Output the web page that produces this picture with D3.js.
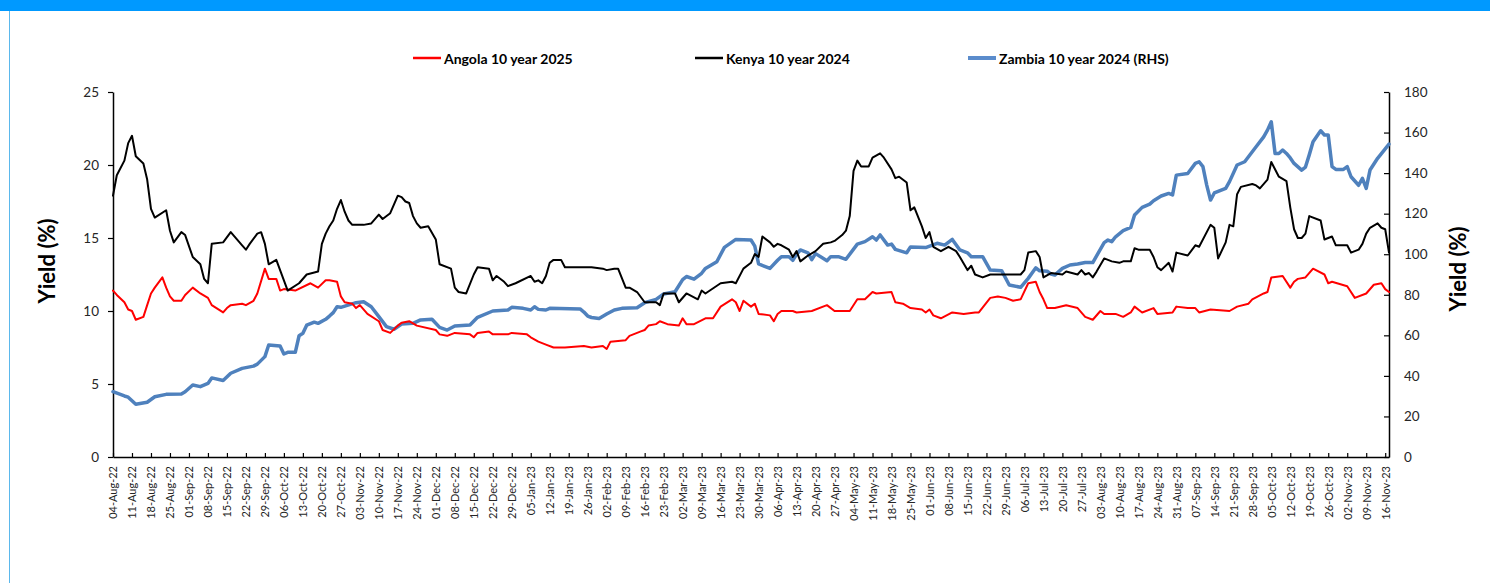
<!DOCTYPE html>
<html>
<head>
<meta charset="utf-8">
<script src="https://cdn.jsdelivr.net/npm/d3@7"></script>
<style>
  body { margin: 0; background: #fff; }
  svg { display: block; font-family: Lato, "Open Sans", sans-serif; }
</style>
</head>
<body>
<div id="chart"></div>
<script>
// weekly labels on the trading-day axis (one every 5 trading days)
const tickLabels = [
  "04-Aug-22", "11-Aug-22", "18-Aug-22", "25-Aug-22", "01-Sep-22", "08-Sep-22", "15-Sep-22", "22-Sep-22",
  "29-Sep-22", "06-Oct-22", "13-Oct-22", "20-Oct-22", "27-Oct-22", "03-Nov-22", "10-Nov-22", "17-Nov-22",
  "24-Nov-22", "01-Dec-22", "08-Dec-22", "15-Dec-22", "22-Dec-22", "29-Dec-22", "05-Jan-23", "12-Jan-23",
  "19-Jan-23", "26-Jan-23", "02-Feb-23", "09-Feb-23", "16-Feb-23", "23-Feb-23", "02-Mar-23", "09-Mar-23",
  "16-Mar-23", "23-Mar-23", "30-Mar-23", "06-Apr-23", "13-Apr-23", "20-Apr-23", "27-Apr-23", "04-May-23",
  "11-May-23", "18-May-23", "25-May-23", "01-Jun-23", "08-Jun-23", "15-Jun-23", "22-Jun-23", "29-Jun-23",
  "06-Jul-23", "13-Jul-23", "20-Jul-23", "27-Jul-23", "03-Aug-23", "10-Aug-23", "17-Aug-23", "24-Aug-23",
  "31-Aug-23", "07-Sep-23", "14-Sep-23", "21-Sep-23", "28-Sep-23", "05-Oct-23", "12-Oct-23", "19-Oct-23",
  "26-Oct-23", "02-Nov-23", "09-Nov-23", "16-Nov-23"
];

// [trading day since 04-Aug-22, yield %]
const angola = [
  [0,11.4],[1,11.1],[3,10.6],[4,10.1],[5,10.0],[6,9.4],[8,9.6],[9,10.4],[10,11.2],[11,11.6],[13,12.3],[14,11.6],
  [15,11.0],[16,10.7],[18,10.7],[19,11.1],[21,11.6],[23,11.2],[25,10.9],[26,10.4],[29,9.9],[30,10.2],[31,10.4],
  [34,10.5],[35,10.4],[37,10.7],[38,11.2],[40,12.9],[41,12.2],[43,12.2],[44,11.4],[45,11.5],[48,11.4],[52,11.9],
  [54,11.6],[56,12.1],[57,12.1],[59,12.0],[60,11.0],[61,10.6],[63,10.5],[64,10.2],[65,10.4],[67,9.8],[70,9.3],
  [71,8.7],[73,8.5],[75,9.0],[76,9.2],[78,9.3],[80,9.0],[85,8.7],[86,8.4],[88,8.3],[90,8.5],[94,8.4],[95,8.2],
  [96,8.5],[99,8.6],[100,8.4],[104,8.4],[105,8.5],[109,8.4],[110,8.2],[112,7.9],[114,7.7],[116,7.5],[119,7.5],
  [124,7.6],[126,7.5],[129,7.6],[130,7.4],[131,7.9],[135,8.0],[136,8.3],[139,8.6],[140,8.7],[141,9.0],[143,9.1],
  [144,9.3],[146,9.1],[149,9.0],[150,9.5],[151,9.1],[153,9.1],[156,9.5],[158,9.5],[160,10.3],[163,10.8],[164,10.6],
  [165,10.0],[166,10.7],[168,10.3],[169,10.5],[170,9.8],[173,9.7],[174,9.3],[175,9.8],[176,10.0],[179,10.0],
  [180,9.9],[184,10.0],[188,10.4],[190,10.0],[194,10.0],[196,10.8],[198,10.8],[200,11.3],[201,11.2],[205,11.3],
  [206,10.6],[208,10.5],[210,10.2],[213,10.1],[214,9.9],[215,10.1],[216,9.7],[218,9.5],[221,9.9],[224,9.8],
  [227,9.9],[228,9.9],[231,10.9],[233,11.0],[235,10.9],[237,10.7],[239,10.8],[241,11.9],[243,12.0],[244,11.3],
  [245,10.8],[246,10.2],[248,10.2],[251,10.4],[254,10.2],[256,9.6],[258,9.4],[260,10.0],[261,9.8],[264,9.8],
  [266,9.6],[268,9.9],[269,10.3],[271,9.9],[274,10.2],[275,9.8],[279,9.9],[280,10.3],[283,10.2],[285,10.2],
  [286,9.9],[289,10.1],[294,10.0],[296,10.3],[299,10.5],[300,10.8],[303,11.2],[304,11.3],[305,12.3],[308,12.4],
  [310,11.6],[311,12.0],[312,12.2],[314,12.3],[316,12.9],[319,12.5],[320,11.9],[321,12.0],[325,11.7],[327,10.9],
  [330,11.2],[332,11.8],[334,11.9],[335,11.5],[336,11.3]
];

const kenya = [
  [0,17.9],[1,19.3],[3,20.3],[4,21.5],[5,22.0],[6,20.6],[8,20.1],[9,19.0],[10,17.0],[11,16.4],[14,16.9],[15,15.5],
  [16,14.7],[18,15.4],[19,15.2],[21,13.7],[23,13.2],[24,12.2],[25,11.9],[26,14.6],[29,14.7],[31,15.4],[34,14.5],
  [35,14.2],[36,14.6],[38,15.3],[39,15.4],[40,14.6],[41,13.2],[43,13.5],[44,12.8],[46,11.4],[49,11.9],[51,12.5],
  [54,12.7],[55,14.6],[56,15.3],[57,15.8],[58,16.2],[59,17.0],[60,17.6],[61,16.8],[62,16.2],[63,15.9],[66,15.9],
  [68,16.0],[70,16.6],[71,16.3],[73,16.7],[75,17.9],[76,17.8],[77,17.5],[78,17.4],[79,16.5],[80,16.0],[81,15.7],
  [83,15.8],[85,14.9],[86,13.2],[89,12.9],[90,11.6],[91,11.3],[93,11.2],[95,12.5],[96,13.0],[99,12.9],[100,12.1],
  [101,12.4],[103,12.0],[104,11.7],[106,11.9],[110,12.4],[111,12.0],[112,12.1],[113,11.9],[114,12.4],[115,13.3],
  [116,13.5],[118,13.5],[119,13.0],[124,13.0],[126,13.0],[129,12.9],[130,12.8],[132,12.9],[133,12.9],[135,11.6],
  [136,11.6],[138,11.3],[140,10.6],[143,10.6],[144,10.4],[145,11.2],[148,11.2],[149,10.6],[151,11.2],[154,10.8],
  [155,11.4],[156,11.2],[160,11.9],[163,12.0],[164,11.9],[166,12.9],[168,13.3],[169,13.9],[170,13.7],[171,15.1],
  [173,14.7],[174,14.4],[175,14.6],[176,14.5],[178,14.2],[179,13.7],[180,14.1],[181,13.4],[183,13.8],[185,14.1],
  [187,14.6],[189,14.7],[190,14.8],[192,15.2],[193,15.5],[194,16.5],[195,19.6],[196,20.3],[197,19.9],[199,19.9],
  [200,20.5],[202,20.8],[203,20.5],[205,19.7],[206,19.1],[207,19.2],[209,18.8],[210,16.9],[211,17.1],[213,15.8],
  [214,15.0],[215,15.4],[216,14.4],[218,14.1],[220,14.4],[222,14.1],[223,13.7],[225,12.8],[226,13.1],[227,12.5],
  [229,12.3],[231,12.5],[234,12.5],[239,12.5],[240,12.8],[241,14.0],[243,14.1],[244,13.7],[245,12.3],[247,12.6],
  [250,12.5],[251,12.7],[254,12.5],[255,12.8],[256,12.5],[257,12.6],[258,12.3],[259,12.7],[261,13.6],[263,13.4],
  [265,13.3],[266,13.4],[268,13.4],[269,14.3],[270,14.2],[273,14.2],[274,13.7],[275,13.0],[276,12.8],[278,13.3],
  [279,12.7],[280,14.0],[283,13.8],[285,14.5],[286,14.4],[289,15.9],[290,15.7],[291,13.6],[293,14.7],[294,15.9],
  [295,15.8],[296,18.0],[297,18.5],[300,18.7],[301,18.6],[302,18.4],[304,19.0],[305,20.2],[307,19.2],[309,18.9],
  [310,17.1],[311,15.6],[312,15.0],[313,15.0],[314,15.3],[315,16.5],[318,16.2],[319,14.9],[321,15.1],[322,14.5],
  [325,14.5],[326,14.0],[328,14.2],[329,14.6],[330,15.3],[331,15.7],[333,16.0],[334,15.7],[335,15.6],[336,14.0]
];

const zambia = [
  [0,32.2],[3,30.1],[4,29.5],[6,26.0],[9,27.0],[11,29.7],[14,30.9],[18,31.1],[19,32.2],[21,35.5],[23,34.7],
  [25,36.3],[26,39.0],[29,37.7],[31,41.3],[34,43.7],[37,44.8],[38,45.8],[40,49.5],[41,55.2],[44,54.7],[45,50.8],
  [46,51.6],[48,51.6],[49,59.8],[50,61.0],[51,65.0],[53,66.5],[54,65.9],[56,67.9],[57,69.5],[58,71.2],[59,74.1],
  [60,73.8],[64,76.1],[66,76.6],[68,74.1],[70,69.2],[72,64.3],[74,63.0],[76,65.6],[79,65.9],[81,67.6],[84,67.9],
  [86,63.9],[88,62.6],[90,64.6],[94,65.1],[96,68.9],[100,72.0],[104,72.5],[105,73.8],[108,73.3],[110,72.5],
  [111,74.1],[112,72.8],[114,72.5],[115,73.3],[123,73.0],[124,71.5],[125,69.5],[126,68.8],[128,68.3],[130,70.5],
  [132,72.5],[134,73.3],[138,73.6],[140,76.1],[143,77.7],[145,80.4],[148,81.5],[150,87.5],[151,89.0],[153,87.7],
  [155,90.6],[156,93.0],[159,96.3],[161,103.4],[164,107.3],[168,107.0],[169,104.0],[170,95.2],[173,93.0],
  [175,97.0],[176,98.8],[178,98.8],[179,97.0],[180,100.0],[181,102.1],[183,100.7],[184,97.3],[185,100.3],
  [188,96.8],[189,98.8],[191,98.8],[193,97.5],[196,105.0],[198,106.2],[200,108.6],[201,107.0],[202,109.5],
  [204,104.5],[205,105.0],[206,102.4],[209,100.7],[210,103.6],[214,103.3],[217,105.4],[219,104.5],[221,107.3],
  [223,102.1],[225,100.7],[226,98.8],[229,98.8],[231,92.2],[234,91.9],[236,84.8],[239,83.7],[241,88.1],[243,93.3],
  [244,91.8],[246,91.6],[247,90.2],[248,89.7],[250,93.0],[252,94.7],[254,95.2],[256,95.9],[258,95.9],[261,105.7],
  [262,107.0],[263,106.2],[264,108.6],[266,111.6],[268,113.2],[269,119.3],[271,123.1],[273,124.7],[274,126.4],
  [276,128.7],[278,130.0],[279,129.2],[280,139.0],[283,139.8],[285,144.8],[286,145.6],[287,143.2],[288,134.1],
  [289,126.7],[290,130.2],[293,132.5],[294,135.8],[296,144.0],[298,145.6],[299,148.1],[301,153.0],[303,157.9],
  [304,161.2],[305,165.3],[306,149.7],[307,149.7],[308,151.4],[309,149.7],[310,147.5],[311,144.8],[313,141.5],
  [314,143.0],[315,149.0],[316,155.5],[318,160.9],[319,158.8],[320,158.8],[321,143.2],[322,141.8],[324,141.8],
  [325,143.2],[326,138.2],[328,134.0],[329,137.4],[330,132.5],[331,141.5],[333,147.3],[336,154.3]
];

const leftTicks = [0, 5, 10, 15, 20, 25];
const rightTicks = [0, 20, 40, 60, 80, 100, 120, 140, 160, 180];

const W = 1490, H = 583;
const margin = { top: 92, right: 101, bottom: 126, left: 113 };

const svg = d3.select("#chart").append("svg")
  .attr("width", W)
  .attr("height", H);

// frame: blue strip on top, thin border on the left
svg.append("rect")
  .attr("x", 0).attr("y", 0)
  .attr("width", W).attr("height", 11)
  .attr("fill", "#0099ff");
svg.append("line")
  .attr("x1", 9.5).attr("x2", 9.5)
  .attr("y1", 11).attr("y2", H)
  .attr("stroke", "#5bb8ec")
  .attr("stroke-width", 1);

const x = d3.scaleLinear()
  .domain([0, 336])
  .range([margin.left, W - margin.right]);

const yL = d3.scaleLinear()
  .domain([0, 25])
  .range([H - margin.bottom, margin.top]);

const yR = d3.scaleLinear()
  .domain([0, 180])
  .range([H - margin.bottom, margin.top]);

// axes
const axisColor = "#000";
const labelColor = "#262626";

const gx = svg.append("g")
  .attr("transform", `translate(0,${H - margin.bottom})`)
  .call(d3.axisBottom(x)
    .tickValues(tickLabels.map((d, i) => i * 5))
    .tickFormat(d => tickLabels[d / 5])
    .tickSize(-4)
    .tickSizeOuter(0));

gx.selectAll("text")
  .attr("transform", "rotate(-90)")
  .attr("x", -9)
  .attr("y", 0)
  .attr("dy", "0.35em")
  .attr("text-anchor", "end")
  .style("font-size", "11px")
  .style("fill", labelColor);

const gl = svg.append("g")
  .attr("transform", `translate(${margin.left},0)`)
  .call(d3.axisLeft(yL)
    .tickValues(leftTicks)
    .tickSize(5)
    .tickPadding(9)
    .tickSizeOuter(0));

gl.selectAll("text")
  .style("font-size", "13.5px")
  .style("fill", labelColor);

const gr = svg.append("g")
  .attr("transform", `translate(${W - margin.right},0)`)
  .call(d3.axisRight(yR)
    .tickValues(rightTicks)
    .tickSize(-5)
    .tickPadding(15)
    .tickSizeOuter(0));

gr.selectAll("text")
  .style("font-size", "13.5px")
  .style("fill", labelColor);

[gx, gl, gr].forEach(g => {
  g.select(".domain").attr("stroke", axisColor).attr("stroke-width", 1.5);
  g.selectAll(".tick line").attr("stroke", axisColor).attr("stroke-width", 1.2);
  g.selectAll("text").style("font-family", "Lato, sans-serif");
});

// axis titles
svg.append("text")
  .attr("transform", "translate(46,261) rotate(-90)")
  .attr("text-anchor", "middle")
  .attr("dominant-baseline", "central")
  .style("font-size", "22px")
  .style("font-weight", "700")
  .style("fill", "#000")
  .text("Yield (%)");

svg.append("text")
  .attr("transform", "translate(1457,269) rotate(-90)")
  .attr("text-anchor", "middle")
  .attr("dominant-baseline", "central")
  .style("font-size", "22px")
  .style("font-weight", "700")
  .style("fill", "#000")
  .text("Yield (%)");

// series
const series = [
  { name: "Angola 10 year 2025", data: angola, y: yL, color: "#ff0000", width: 2, legendX: 413 },
  { name: "Kenya 10 year 2024", data: kenya, y: yL, color: "#000000", width: 2, legendX: 695 },
  { name: "Zambia 10 year 2024 (RHS)", data: zambia, y: yR, color: "#4f81bd", width: 3.5, legendX: 968 }
];

// zambia underneath, like the reference
[series[2], series[0], series[1]].forEach(s => {
  const line = d3.line()
    .x(d => x(d[0]))
    .y(d => s.y(d[1]));

  svg.append("path")
    .datum(s.data)
    .attr("fill", "none")
    .attr("stroke", s.color)
    .attr("stroke-width", s.width)
    .attr("stroke-linejoin", "round")
    .attr("stroke-linecap", "round")
    .attr("d", line);
});

// legend
const legendY = 58;
series.forEach(s => {
  svg.append("line")
    .attr("x1", s.legendX)
    .attr("x2", s.legendX + 28)
    .attr("y1", legendY)
    .attr("y2", legendY)
    .attr("stroke", s.color === "#4f81bd" ? "#5b8ccc" : s.color)
    .attr("stroke-width", s.width === 2 ? 2.5 : 4);

  svg.append("text")
    .attr("x", s.legendX + 31)
    .attr("y", legendY)
    .attr("dominant-baseline", "central")
    .style("font-size", "14px")
    .style("font-weight", "700")
    .style("fill", "#000")
    .text(s.name);
});
</script>
</body>
</html>
